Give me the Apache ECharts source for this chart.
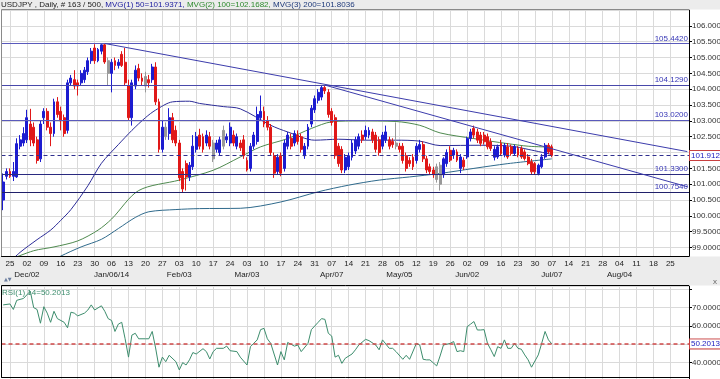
<!DOCTYPE html>
<html><head><meta charset="utf-8">
<script src="https://cdn.jsdelivr.net/npm/echarts@6/dist/echarts.min.js"></script>
<style>html,body{margin:0;padding:0;background:#fff}#c{width:720px;height:379px}</style>
</head><body><div id="c"></div>
<script>
// ---------- data ----------
const startDate = [2013, 10, 21];      // first bar: 21 Nov 2013 (weekdays only)
const dayCount = 203;                   // categories on the axis (incl. empty future)
const weekDayLabels = ['25','02','09','16','23','30','06','13','20','27','03','10','17','24','03','10','17','24','31','07','14','21','28','05','12','19','26','02','09','16','23','30','07','14','21','28','04','11','18','25'];
const monthLabels = {1:'Dec/02',6:'Jan/06/14',10:'Feb/03',14:'Mar/03',19:'Apr/07',23:'May/05',27:'Jun/02',32:'Jul/07',36:'Aug/04'};

const opens = [100.50,101.25,101.40,101.25,101.23,102.20,102.30,102.40,102.90,102.80,102.40,101.80,103.10,103.30,102.80,102.60,103.60,103.30,103.10,102.70,
104.20,104.30,104.20,104.20,104.30,104.55,104.90,105.30,104.90,105.20,105.40,104.90,104.50,104.90,104.75,105.10,104.85,104.10,103.10,104.10,
104.65,104.35,104.40,104.30,104.30,104.70,103.60,102.10,102.80,102.60,103.10,102.70,102.30,101.40,101.65,101.23,101.55,102.10,102.55,102.50,
102.30,102.50,102.30,102.10,102.00,102.70,102.40,102.30,102.55,102.20,102.30,102.40,101.75,101.50,102.20,102.35,103.10,103.30,103.00,102.80,
101.90,101.40,101.90,101.50,102.20,102.45,102.30,102.55,102.50,101.90,102.20,102.90,103.35,103.65,103.75,104.05,103.90,103.30,103.10,102.20,
102.10,101.45,101.55,101.85,102.05,102.20,102.55,102.50,102.55,102.65,102.55,102.40,102.20,102.40,102.40,102.35,102.30,102.20,102.20,101.90,
101.75,101.85,101.75,102.10,102.25,101.80,101.55,101.45,101.55,101.60,101.30,101.65,102.07,101.92,102.02,101.50,101.76,101.86,102.44,102.76,
102.65,102.55,102.55,102.50,102.34,101.85,101.86,102.29,101.92,102.18,102.18,101.97,102.13,102.13,102.02,101.86,101.71,101.65,101.34,101.55,
101.86,102.23,102.18];
const highs = [101.34,101.50,101.50,101.70,102.45,102.55,102.80,103.35,103.38,102.95,102.50,103.00,103.40,103.40,102.95,103.70,103.75,103.45,103.20,104.30,
104.45,104.60,104.30,104.60,104.70,105.00,105.30,105.42,105.30,105.42,105.44,105.00,104.95,105.00,104.95,105.20,105.30,104.30,104.30,104.75,
104.80,104.50,104.55,104.45,104.80,104.85,103.70,103.00,102.95,103.40,103.25,102.85,102.40,101.50,101.75,101.70,102.55,102.65,102.75,102.60,
102.70,102.65,102.40,102.40,102.50,102.85,102.60,102.95,102.70,102.60,102.40,102.55,101.85,102.30,102.65,103.45,103.80,103.45,103.15,102.90,
102.00,101.95,102.00,102.40,102.65,102.60,102.70,102.70,102.60,102.30,102.90,103.50,103.80,104.00,104.10,104.13,104.00,103.40,103.20,102.30,
102.20,101.95,102.00,102.40,102.50,102.60,102.70,102.85,102.80,102.75,102.65,102.50,102.65,102.85,102.50,102.45,102.95,102.30,102.30,102.00,
101.85,101.95,102.30,102.40,102.35,101.90,101.65,101.55,101.65,101.70,101.85,102.10,102.20,102.15,102.10,101.95,101.85,102.50,102.75,102.85,
102.75,102.65,102.65,102.60,102.45,102.20,102.25,102.40,102.30,102.30,102.25,102.25,102.20,102.20,102.10,101.95,101.80,101.70,101.65,101.95,
102.30,102.30,102.25];
const lows = [100.18,101.15,101.20,101.10,101.20,102.10,102.20,102.30,102.20,102.20,101.65,101.70,102.90,102.70,102.20,102.50,103.10,102.70,102.50,102.60,
104.10,104.00,103.80,104.10,104.20,104.45,104.80,104.80,104.85,105.10,104.80,104.10,103.90,104.60,104.65,104.70,104.10,103.00,102.85,104.00,
104.25,104.10,103.90,104.05,104.20,103.50,102.00,102.00,102.40,102.40,102.30,102.20,101.10,100.75,100.80,101.10,101.45,102.00,102.10,102.00,
102.20,102.10,101.70,102.00,101.90,102.10,102.30,102.20,102.20,102.10,102.05,101.80,101.40,101.40,102.10,102.25,103.00,102.80,102.70,101.90,
101.20,101.30,101.25,101.40,102.10,102.10,102.20,102.25,102.00,101.80,102.10,102.80,103.25,103.55,103.65,103.85,103.10,102.85,101.80,101.55,
101.35,101.35,101.45,101.75,101.95,102.10,102.30,102.40,102.45,102.30,102.00,101.90,102.10,102.30,102.10,102.15,102.10,102.00,101.65,101.40,
101.55,101.45,101.65,102.00,101.70,101.35,101.30,101.20,101.05,100.80,101.20,101.55,101.70,101.80,101.70,101.35,101.45,101.80,102.35,102.45,
102.30,102.20,102.25,102.10,102.05,101.75,101.80,101.90,101.85,101.80,101.90,101.90,101.85,101.80,101.75,101.60,101.30,101.29,101.28,101.50,
101.80,101.95,101.85];
const closes = [101.07,101.40,101.25,101.40,102.28,102.40,102.60,103.10,102.40,102.30,101.75,102.90,103.30,102.80,102.60,103.60,103.20,103.00,102.60,104.20,
104.35,104.10,104.10,104.50,104.60,104.90,105.20,104.90,105.25,105.40,104.86,104.50,104.85,104.75,104.85,104.75,104.20,103.10,104.20,104.60,
104.35,104.25,104.10,104.20,104.70,103.60,102.10,102.80,102.50,103.10,102.40,102.30,101.20,100.85,101.23,101.60,102.20,102.50,102.20,102.10,
102.55,102.20,101.80,102.30,102.40,102.20,102.50,102.80,102.30,102.50,102.15,101.90,101.45,102.20,102.55,103.20,103.30,102.90,102.80,102.00,
101.35,101.85,101.35,102.30,102.55,102.20,102.60,102.35,102.10,102.20,102.80,103.40,103.70,103.90,104.05,103.95,103.20,102.95,101.90,101.65,
101.45,101.85,101.90,102.30,102.40,102.50,102.40,102.70,102.70,102.40,102.10,102.00,102.55,102.65,102.20,102.25,102.20,102.10,101.75,101.50,
101.65,101.55,102.20,102.25,101.80,101.45,101.40,101.30,101.15,101.00,101.80,102.00,101.76,102.07,101.76,101.86,101.55,102.44,102.65,102.55,
102.39,102.29,102.34,102.18,102.13,102.10,102.18,101.97,102.23,101.86,101.97,102.18,101.92,101.86,101.81,101.65,101.39,101.39,101.60,101.86,
102.23,102.02,101.91];
const grayBars = [31,42,48,62,65,116,128,129];

const ma50Idx = [2,5,10,14,17,20,25,29,34,38,42,45,50,55,58,65,70,79,84,92,99,107,116,123,129,141,150,155,162];
const ma50Val = [98.55,98.85,99.25,99.55,99.86,100.2,100.95,101.66,102.25,102.7,103.1,103.34,103.6,103.62,103.55,103.45,103.38,102.86,102.65,102.39,102.42,102.39,102.39,102.36,102.22,102.23,102.2,102.1,101.94];
const ma100Idx = [2,9,15,22,28,32,40,52,62,70,76,84,91,97,105,116,123,129,139,149,155,162];
const ma100Val = [98.62,98.9,99.02,99.21,99.55,99.9,100.8,101.13,101.44,101.86,102.18,102.44,102.76,102.97,103.0,102.98,102.86,102.62,102.44,102.28,102.2,102.17];
const ma200Idx = [15,17,23,29,34,39,43,51,58,70,82,93,102,111,120,129,139,149,162];
const ma200Val = [98.6,98.73,99.02,99.26,99.6,99.95,100.13,100.2,100.23,100.24,100.44,100.76,100.97,101.13,101.23,101.34,101.5,101.65,101.8];

const rsiIdx = [0,2,3,4,6,7,8,9,10,11,12,13,14,15,16,18,19,20,21,22,24,25,26,27,29,30,31,32,33,34,35,36,37,38,39,40,42,43,44,45,46,47,48,49,51,52,53,54,55,56,57,59,60,61,62,63,65,66,67,69,70,72,73,75,76,77,78,79,81,82,83,84,86,87,88,90,91,93,94,95,96,97,98,99,100,101,103,104,105,107,108,110,111,112,114,115,116,118,119,120,122,123,124,125,126,128,129,130,132,133,134,135,136,137,138,139,140,141,142,143,144,145,146,147,148,149,150,151,152,153,154,155,156,158,159,160,161,162];
const rsiVal = [71.5,72,69,74,75,77,79,70,69,61.5,70.5,67,62,68,64,62,59,67.5,67,65.5,67,68.7,71.5,68.7,71,68,64,63,57,61,62,53,43,55,56,53,53,53,57,48,37.5,43,40.5,44,40.5,36,40,38.7,41.5,45.5,44.7,47.6,46,42,46,47.8,47.8,49,46.5,46,43,38.7,48.7,52.4,58,58.7,53,50.5,38.7,46,41.5,51,49,49.6,46,50.5,58,62,64,63.6,56,54.5,43,44,39.6,42.4,44.7,47,49.6,52.7,52,49.6,47,52.4,47.8,47.8,46,41.8,44,41.8,50.5,49.6,41.8,41.5,41.5,38.2,43.6,49.6,50.5,51.5,46,46.5,46,59.6,61,62.4,57.8,57.8,58,50.5,47,43.3,48.7,47.8,52.4,47.8,47.8,50.5,47.8,47.3,44.2,41.5,37.5,44.2,50.5,57,52.4,50.2];

const levels = [105.442, 104.129, 103.02, 101.33, 100.754];
const levelColors = ['#5a5abb', '#4848aa', '#5a5abb', '#2a2a80', '#20206a'];
const lastPrice = 101.9128;
const rsiLast = 50.2013;
const trendLines = [[30, 105.442, 202, 102.03], [95, 104.129, 202, 100.92]];

// ---------- build ----------
const dates = [];
{
  const d = new Date(Date.UTC(startDate[0], startDate[1], startDate[2]));
  while (dates.length < dayCount) {
    const wd = d.getUTCDay();
    if (wd !== 0 && wd !== 6) dates.push(d.toISOString().slice(0, 10));
    d.setUTCDate(d.getUTCDate() + 1);
  }
}
const isWeekTick = (i) => i >= 2 && (i - 2) % 5 === 0 && (i - 2) / 5 < weekDayLabels.length;

const candleData = opens.map((o, i) => {
  const item = { value: [o, closes[i], lows[i], highs[i]] };
  if (grayBars.includes(i)) item.itemStyle = { color: '#999', color0: '#999', borderColor: '#999', borderColor0: '#999' };
  return item;
});
const pairs = (idx, val) => idx.map((k, j) => [dates[k], val[j]]);

const FONT = 'Arial, "Liberation Sans", sans-serif';
const gridLineColor = '#dadada';

const markLevels = levels.map((v, j) => ({
  yAxis: v,
  lineStyle: { color: levelColors[j], width: 1, type: 'solid' },
  label: { show: true, position: 'insideEndTop', formatter: v.toFixed(4), color: '#3535b5', fontSize: 8, fontFamily: FONT, distance: 1 }
}));
const markTrends = trendLines.map(t => [
  { coord: [dates[t[0]], t[1]], lineStyle: { color: '#3c3cac', width: 1, type: 'solid' }, label: { show: false } },
  { coord: [dates[t[2]], t[3]] }
]);

const chart = echarts.init(document.getElementById('c'), null, { renderer: 'canvas' });
chart.setOption({
  animation: false,
  backgroundColor: '#fff',
  title: {
    left: 1, top: 0, padding: 0, z: 30,
    text: '{a|USDJPY , Daily, # 163 / 500,} {b|MVG(1) 50=101.9371,} {c|MVG(2) 100=102.1682,} {d|MVG(3) 200=101.8036}',
    textStyle: {
      fontSize: 8, fontFamily: FONT, fontWeight: 'normal',
      rich: {
        a: { color: '#222', fontSize: 8, fontFamily: FONT, lineHeight: 10 },
        b: { color: '#1c1ca0', fontSize: 8, fontFamily: FONT, lineHeight: 10 },
        c: { color: '#2e8b2e', fontSize: 8, fontFamily: FONT, lineHeight: 10 },
        d: { color: '#1f3a7a', fontSize: 8, fontFamily: FONT, lineHeight: 10 }
      }
    }
  },
  grid: [
    { left: 1.5, right: 31, top: 10, height: 253.4, outerBoundsMode: 'none', containLabel: false },
    { left: 1.5, right: 31, top: 286, height: 94.95, outerBoundsMode: 'none', containLabel: false }
  ],
  xAxis: [
    { type: 'category', gridIndex: 0, data: dates, boundaryGap: true,
      axisLine: { show: false }, axisTick: { show: false }, axisLabel: { show: false },
      splitLine: { show: true, interval: (i) => isWeekTick(i), alignWithLabel: true, lineStyle: { color: gridLineColor, width: 1 } } },
    { type: 'category', gridIndex: 0, data: dates, boundaryGap: true, position: 'bottom', offset: -7.4, z: 20,
      axisLine: { show: true, lineStyle: { color: '#000', width: 1 } }, axisTick: { show: false },
      splitLine: { show: false },
      axisLabel: {
        show: true, interval: (i) => isWeekTick(i), margin: 2, showMinLabel: true, showMaxLabel: true, hideOverlap: false,
        formatter: (v, i) => { const k = (i - 2) / 5; const m = monthLabels[k]; return '{d|' + weekDayLabels[k] + '}' + (m ? '\n{m|' + m + '}' : ''); },
        rich: { d: { fontSize: 8, lineHeight: 11, color: '#222', fontFamily: FONT, align: 'center' }, m: { fontSize: 8, lineHeight: 12, color: '#222', fontFamily: FONT, align: 'center' } }
      } },
    { type: 'category', gridIndex: 1, data: dates, boundaryGap: true, offset: -4,
      axisLine: { show: true, lineStyle: { color: '#000', width: 1 } }, axisTick: { show: false }, axisLabel: { show: false },
      splitLine: { show: true, interval: (i) => isWeekTick(i), alignWithLabel: true, lineStyle: { color: gridLineColor, width: 1 } } }
  ],
  yAxis: [
    { type: 'value', gridIndex: 0, position: 'right', min: 98.5, max: 106.5, interval: 0.5,
      axisLine: { show: true, lineStyle: { color: '#000' } },
      axisTick: { show: true, length: 3, lineStyle: { color: '#000' } },
      axisLabel: { fontSize: 8, color: '#333', fontFamily: FONT, margin: 3, showMinLabel: false, showMaxLabel: false, formatter: v => v.toFixed(4) },
      splitLine: { show: true, lineStyle: { color: gridLineColor, width: 1 } } },
    { type: 'value', gridIndex: 1, position: 'right', min: 30, max: 81.8, interval: 10,
      axisLine: { show: true, lineStyle: { color: '#000' } },
      axisTick: { show: true, length: 3, lineStyle: { color: '#000' } },
      axisLabel: { fontSize: 8, color: '#333', fontFamily: FONT, margin: 3, showMinLabel: false, showMaxLabel: false,
        formatter: v => (v === 50 || v === 80) ? '' : v.toFixed(4) },
      splitLine: { show: true, lineStyle: { color: gridLineColor, width: 1 } } }
  ],
  series: [
    { type: 'line', xAxisIndex: 0, yAxisIndex: 0, data: pairs(ma200Idx, ma200Val), showSymbol: false, smooth: 0.3,
      lineStyle: { color: '#2f6a8c', width: 1 }, z: 3 },
    { type: 'line', xAxisIndex: 0, yAxisIndex: 0, data: pairs(ma100Idx, ma100Val), showSymbol: false, smooth: 0.3,
      lineStyle: { color: '#4f8a4f', width: 1 }, z: 3 },
    { type: 'line', xAxisIndex: 0, yAxisIndex: 0, data: pairs(ma50Idx, ma50Val), showSymbol: false, smooth: 0.3,
      lineStyle: { color: '#2c2c98', width: 1 }, z: 3 },
    { type: 'candlestick', xAxisIndex: 0, yAxisIndex: 0, data: candleData, barWidth: 2.4, z: 4,
      itemStyle: { color: '#1c1cd0', color0: '#e01818', borderColor: '#1c1cd0', borderColor0: '#e01818', borderWidth: 1 },
      markLine: {
        silent: true, symbol: ['none', 'none'], animation: false,
        data: markLevels.concat([{
          yAxis: lastPrice,
          lineStyle: { color: '#30308f', width: 1, type: [4, 3] },
          label: { show: true, position: 'end', formatter: lastPrice.toFixed(4), color: '#2020c0', fontSize: 8, fontFamily: FONT,
            backgroundColor: '#fff', borderColor: '#c84040', borderWidth: 1, padding: [1, 1, 0, 1], distance: 1 }
        }]).concat(markTrends)
      } },
    { type: 'line', xAxisIndex: 2, yAxisIndex: 1, data: pairs(rsiIdx, rsiVal), showSymbol: false,
      lineStyle: { color: '#3d8d6d', width: 1 },
      markLine: {
        silent: true, symbol: ['none', 'none'], animation: false,
        data: [{ yAxis: rsiLast, lineStyle: { color: '#d04848', width: 1.5, type: [4, 3] },
          label: { show: true, position: 'end', formatter: rsiLast.toFixed(4), color: '#2020c0', fontSize: 8, fontFamily: FONT,
            backgroundColor: '#fff', borderColor: '#c84040', borderWidth: 1, padding: [1, 1, 0, 1], distance: 1 } }]
      } }
  ],
  graphic: [
    { type: 'rect', z: 10, shape: { x: 0, y: 0, width: 720, height: 9.5 }, style: { fill: '#ececec' } },
    { type: 'rect', z: 10, shape: { x: 0, y: 256.5, width: 720, height: 29 }, style: { fill: '#ececec' } },
    { type: 'polyline', z: 11, shape: { points: [[1.5, 256], [1.5, 9.5], [689, 9.5]] }, style: { stroke: '#8a8a8a', fill: null, lineWidth: 1 } },
    { type: 'polyline', z: 11, shape: { points: [[1.5, 377], [1.5, 285.5], [689, 285.5]] }, style: { stroke: '#000', fill: null, lineWidth: 1 } },
    { type: 'text', z: 12, x: 4, y: 277.5, style: { text: '▲▼', fontSize: 5, fill: '#6d7fa0', fontFamily: 'DejaVu Sans' } },
    { type: 'text', z: 12, x: 713, y: 277.5, style: { text: 'x', fontSize: 8, fill: '#666', fontFamily: FONT } },
    { type: 'text', z: 12, x: 2, y: 288.5, style: { text: 'RSI(1) 14=50.2013', fontSize: 8, fill: '#3d8d6d', fontFamily: FONT } }
  ]
});
</script></body></html>
